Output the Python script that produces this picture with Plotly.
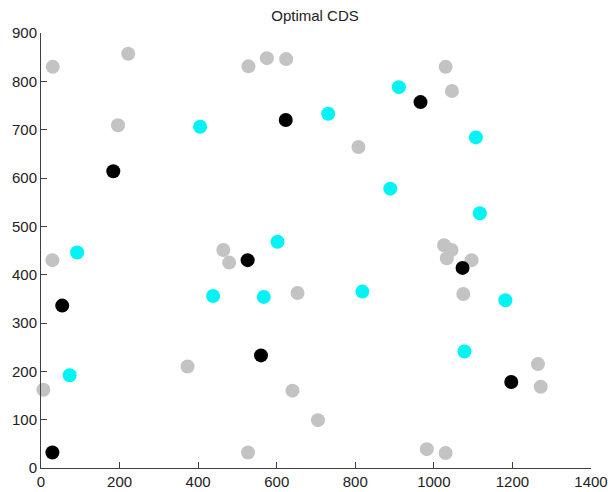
import plotly.graph_objects as go

# Gray (all nodes not in CDS)
gray_x = [30, 222, 196, 528, 575, 624, 1030, 1046, 808, 29, 464, 479, 653, 373, 6, 640, 527,
          1026, 1045, 1033, 1096, 1075, 1265, 1272, 705, 982, 1030]
gray_y = [830, 857, 709, 831, 848, 846, 830, 780, 664, 430, 451, 425, 362, 210, 162, 160, 32,
          461, 451, 434, 430, 360, 215, 168, 99, 39, 31]

# Black (CDS nodes)
black_x = [184, 623, 966, 526, 54, 560, 29, 1073, 1197]
black_y = [614, 720, 757, 430, 336, 233, 32, 414, 178]

# Cyan (dominated nodes)
cyan_x = [405, 602, 911, 731, 1107, 889, 1117, 92, 438, 567, 73, 818, 1182, 1078]
cyan_y = [706, 468, 788, 733, 684, 578, 527, 446, 356, 354, 192, 365, 347, 241]

x_ticks = [0, 200, 400, 600, 800, 1000, 1200, 1400]
y_ticks = [0, 100, 200, 300, 400, 500, 600, 700, 800, 900]

fig = go.Figure()
for xs, ys, col in [(gray_x, gray_y, "#c3c3c3"), (cyan_x, cyan_y, "#00f4f4"), (black_x, black_y, "#000000")]:
    fig.add_trace(go.Scatter(x=xs, y=ys, mode="markers", cliponaxis=False,
                             marker=dict(size=14, color=col, line=dict(width=0)),
                             showlegend=False))

axis_common = dict(showgrid=False, zeroline=False, showline=True, linecolor="#404040", linewidth=1,
                   ticks="inside", ticklen=6, tickcolor="#404040", mirror=False, automargin=False,
                   tickfont=dict(family="Arial", size=15, color="#222222"))
fig.update_xaxes(range=[0, 1400], tickvals=x_ticks, ticktext=[str(v) for v in x_ticks], **axis_common)
fig.update_yaxes(range=[0, 900], tickvals=y_ticks, ticktext=[str(v) for v in y_ticks], **axis_common)

fig.update_layout(
    width=608, height=492,
    margin=dict(l=41, r=17, t=33, b=24, autoexpand=False),
    paper_bgcolor="white", plot_bgcolor="white",
    title=dict(text="Optimal CDS", x=315 / 608, xanchor="center", y=1 - 16 / 492, yanchor="middle",
               yref="container", xref="container",
               font=dict(family="Arial", size=15, color="#222222")),
)
fig.write_html("out.html", config={"displayModeBar": False},
               post_script="document.body.style.margin='0px';document.body.style.overflow='hidden';")
